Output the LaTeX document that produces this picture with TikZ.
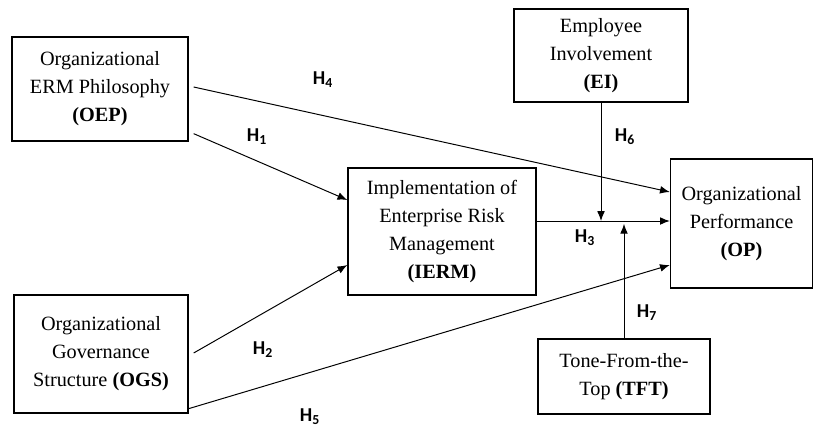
\documentclass[tikz,border=0pt]{standalone}
\usepackage{fontspec}
\setmainfont{Liberation Serif}
\newfontfamily\hypfont{Carlito}
\usetikzlibrary{arrows.meta}

\tikzset{
  factor/.style={draw, line width=0.9pt, align=center, inner sep=0pt,
    font=\fontsize{14.4}{19.9}\selectfont},
  link/.style={line width=0.7pt, -{Latex[length=7pt,width=5.5pt]}},
  hyp/.style={font=\hypfont\bfseries\fontsize{14}{16}\selectfont}
}

\begin{document}
\begin{tikzpicture}[x=0.025cm,y=-0.025cm]
  \useasboundingbox (0,0) rectangle (814,430);

  \node[factor, minimum width=4.4cm, minimum height=2.6cm] (oep) at (100,89)
    {Organizational\\ERM Philosophy\\\textbf{(OEP)}};
  \node[factor, minimum width=4.35cm, minimum height=2.95cm] (ogs) at (101,354)
    {Organizational\\Governance\\Structure \textbf{(OGS)}};
  \node[factor, minimum width=4.7cm, minimum height=3.175cm] (ierm) at (442,231.5)
    {Implementation of\\Enterprise Risk\\Management\\\textbf{(IERM)}};
  \node[factor, minimum width=4.35cm, minimum height=2.325cm] (ei) at (601,55.5)
    {Employee\\Involvement\\\textbf{(EI)}};
  \node[factor, minimum width=3.55cm, minimum height=3.225cm] (op) at (741.5,223.5)
    {Organizational\\Performance\\\textbf{(OP)}};
  \node[factor, minimum width=4.3cm, minimum height=1.875cm] (tft) at (624,376.5)
    {Tone-From-the-\\Top \textbf{(TFT)}};

  \coordinate (mid) at (600,221);

  \node[hyp] (h1) at (257,137) {H\textsubscript{1}};
  \node[hyp] (h2) at (263,350) {H\textsubscript{2}};
  \node[hyp] (h3) at (585,238) {H\textsubscript{3}};
  \node[hyp] (h4) at (323,80) {H\textsubscript{4}};
  \node[hyp] (h5) at (310,417) {H\textsubscript{5}};
  \node[hyp] (h6) at (625,137) {H\textsubscript{6}};
  \node[hyp] (h7) at (647,313) {H\textsubscript{7}};

  \draw[link] ([shift={(5,-8)}]oep.south east) -- ([shift={(0,-31.5)}]ierm.west);
  \draw[link] ([shift={(5,-1)}]ogs.east) -- ([shift={(0,33.5)}]ierm.west);
  \draw[link] (ierm.east |- mid) -- (op.west |- mid);
  \draw[link] ([shift={(5,-2)}]oep.east) -- ([shift={(0,-31.5)}]op.west);
  \draw[link] ([shift={(0,-5)}]ogs.south east) -- ([shift={(0,41.5)}]op.west);
  \draw[link] (ei.south) -- (ei.south |- mid);
  \draw[link] (tft.north) -- ([yshift=-2]tft.north |- mid);
\end{tikzpicture}
\end{document}
